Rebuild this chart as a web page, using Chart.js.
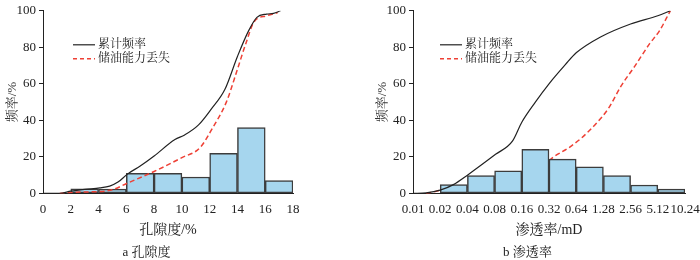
<!DOCTYPE html>
<html>
<head>
<meta charset="utf-8">
<script src="https://cdn.jsdelivr.net/npm/chart.js@4"></script>
<style>
  html, body { margin: 0; padding: 0; background: #fff; }
  #wrap { position: relative; width: 700px; height: 260px; }
  .box { position: absolute; top: 0; width: 350px; height: 260px; }
</style>
</head>
<body>
<div id="wrap">
  <div class="box" style="left:0"><canvas id="poroChart" width="350" height="260"></canvas></div>
  <div class="box" style="left:350px"><canvas id="permChart" width="350" height="260"></canvas></div>
</div>
<script>
// 孔隙度 (a)
const poroBinStart = [2, 4, 6, 8, 10, 12, 14, 16];
const poroFreq = [2.5, 2.3, 11, 11, 9, 22, 36, 7];
const poroCumX = [0, 1.2, 2, 3, 4.1, 4.8, 5.4, 6.1, 7, 8, 9.5, 10.2, 11.2, 12.1, 13.1, 14, 14.8, 15.4, 16.1, 16.6, 17.1];
const poroCumY = [0, 0, 1.2, 2.2, 3, 4, 6.2, 10.7, 15, 20.5, 29.5, 32, 37.5, 46, 57, 75, 89, 96.4, 98.2, 98.6, 100];
const poroLossX = [1.2, 2, 3, 4.1, 5, 6.1, 8, 10, 11.3, 12.2, 13.2, 14, 14.6, 15.2, 16.1, 16.9];
const poroLossY = [0, 0.5, 0.8, 1, 2, 5.7, 12, 19.6, 25, 35.7, 50, 68, 82, 94, 97.3, 99];

// 渗透率 (b), mD
const permEdges = ['0.01', '0.02', '0.04', '0.08', '0.16', '0.32', '0.64', '1.28', '2.56', '5.12', '10.24'];
const permBinStart = [0.02, 0.04, 0.08, 0.16, 0.32, 0.64, 1.28, 2.56, 5.12];
const permFreq = [4.8, 9.8, 12.3, 24.1, 18.8, 14.5, 9.8, 4.6, 2.3];
const permCumX = [0.01, 0.014, 0.02, 0.028, 0.04, 0.082, 0.126, 0.16, 0.226, 0.32, 0.485, 0.64, 1.19, 2.56, 5.12, 7.04];
const permCumY = [0, 0.3, 1.8, 4.8, 10, 21.4, 28.6, 39, 50, 60, 70.5, 77, 85.7, 92.8, 97.3, 100];
const permLossX = [0.014, 0.017, 0.02, 0.04, 0.08, 0.16, 0.32, 0.36, 0.53, 0.735, 1.03, 1.45, 2.02, 2.84, 4.16, 5.34, 7.04];
const permLossY = [0, 0.8, 1.8, 3.5, 7, 11, 18, 20, 25, 30.4, 37.5, 46.4, 59, 69.6, 82, 89, 100];

const FONT = '"Liberation Serif", "Noto Serif CJK SC", "Noto Sans CJK SC", serif';
const BAR_FILL = '#a6d6ee';
const BAR_EDGE = '#3c3c3c';
const RED = '#ee4035';

// log2 position of a permeability value on the 0.01 .. 10.24 axis
const permPos = v => Math.log2(v / 0.01);

const pairs = (xs, ys, fx = x => x) => xs.map((x, i) => ({ x: fx(x), y: ys[i] }));

// small legend drawn inside the plot, top left
const simpleLegend = {
    id: 'simpleLegend',
    afterDraw(chart, args, opts) {
        const ctx = chart.ctx;
        const a = chart.chartArea;
        const x0 = a.left + opts.dx;
        const items = [
            { text: '累计频率', color: '#222', dash: [] },
            { text: '储油能力丢失', color: RED, dash: [4, 3] }
        ];
        ctx.save();
        items.forEach((it, i) => {
            const y = a.top + opts.dy + i * 14;
            ctx.beginPath();
            ctx.setLineDash(it.dash);
            ctx.strokeStyle = it.color;
            ctx.lineWidth = it.dash.length ? 1.5 : 1.2;
            ctx.moveTo(x0, y);
            ctx.lineTo(x0 + 22, y);
            ctx.stroke();
            ctx.setLineDash([]);
            ctx.fillStyle = '#222';
            ctx.font = '12px ' + FONT;
            ctx.textBaseline = 'middle';
            ctx.fillText(it.text, x0 + 25, y);
        });
        ctx.restore();
    }
};

function yAxis(width, titlePad) {
    return {
        min: 0, max: 100,
        ticks: { stepSize: 20, color: '#222', font: { family: FONT, size: 13 }, padding: 3 },
        grid: { drawOnChartArea: false, drawTicks: true, tickLength: 4, color: '#222' },
        border: { display: true, color: '#222', width: 1 },
        title: { display: true, text: '频率/%', color: '#333', font: { family: FONT, size: 13 }, padding: { top: titlePad, bottom: 2 } },
        afterFit(scale) { scale.width = width; }
    };
}

function xAxis(min, max, step, cb) {
    return {
        type: 'linear', min: min, max: max, offset: false,
        ticks: { stepSize: step, color: '#222', font: { family: FONT, size: 13 }, padding: 8, maxRotation: 0, autoSkip: false, callback: cb },
        grid: { drawOnChartArea: false, drawTicks: false, color: '#222' },
        border: { display: true, color: '#222', width: 1 },
        afterFit(scale) {
            scale.height = 51;
            // let layout padding alone decide the side margins
            scale.paddingLeft = 0;
            scale.paddingRight = 0;
        }
    };
}

function baseOptions(caption, xTitle, x, y, pad) {
    x.title = { display: true, text: xTitle, color: '#222', font: { family: FONT, size: 14 }, padding: { top: 4, bottom: 6 } };
    return {
        responsive: false,
        animation: false,
        layout: { padding: pad },
        plugins: {
            legend: { display: false },
            tooltip: { enabled: false },
            title: { display: true, position: 'bottom', text: caption, color: '#222', font: { family: FONT, size: 13, weight: 'normal' }, padding: 0 },
            simpleLegend: { dx: 30, dy: 34 }
        },
        scales: { x: x, y: y }
    };
}

function barSet(data, order) {
    return {
        type: 'bar', data: data, order: order,
        backgroundColor: BAR_FILL, borderColor: BAR_EDGE, borderWidth: 1.5, borderSkipped: false,
        barPercentage: 1, categoryPercentage: 1
    };
}

function lineSet(data, color, dash, width, order) {
    return {
        type: 'line', data: data, order: order,
        borderColor: color, borderDash: dash, borderWidth: width,
        pointRadius: 0, fill: false, cubicInterpolationMode: 'monotone'
    };
}

new Chart(document.getElementById('poroChart'), {
    type: 'bar',
    data: {
        datasets: [
            lineSet(pairs(poroCumX, poroCumY), '#222', [], 1.2, 0),
            lineSet(pairs(poroLossX, poroLossY), RED, [5, 3], 1.5, 0),
            barSet(pairs(poroBinStart, poroFreq, x => x + 1), 1)
        ]
    },
    options: baseOptions('a 孔隙度', '孔隙度/%', xAxis(0, 18, 2), yAxis(43, 5), { left: 0, right: 57, top: 7, bottom: 0 }),
    plugins: [simpleLegend]
});

const permOpts = baseOptions('b 渗透率', '渗透率/mD', xAxis(0, 10, 1, v => permEdges[v]), yAxis(43, 5), { left: 20, right: 15, top: 7, bottom: 0 });
permOpts.plugins.simpleLegend = { dx: 27, dy: 34 };

new Chart(document.getElementById('permChart'), {
    type: 'bar',
    data: {
        datasets: [
            lineSet(pairs(permCumX, permCumY, permPos), '#222', [], 1.2, 0),
            barSet(pairs(permBinStart, permFreq, v => permPos(v) + 0.5), 1),
            lineSet(pairs(permLossX, permLossY, permPos), RED, [5, 3], 1.5, 2)
        ]
    },
    options: permOpts,
    plugins: [simpleLegend]
});
</script>
</body>
</html>
